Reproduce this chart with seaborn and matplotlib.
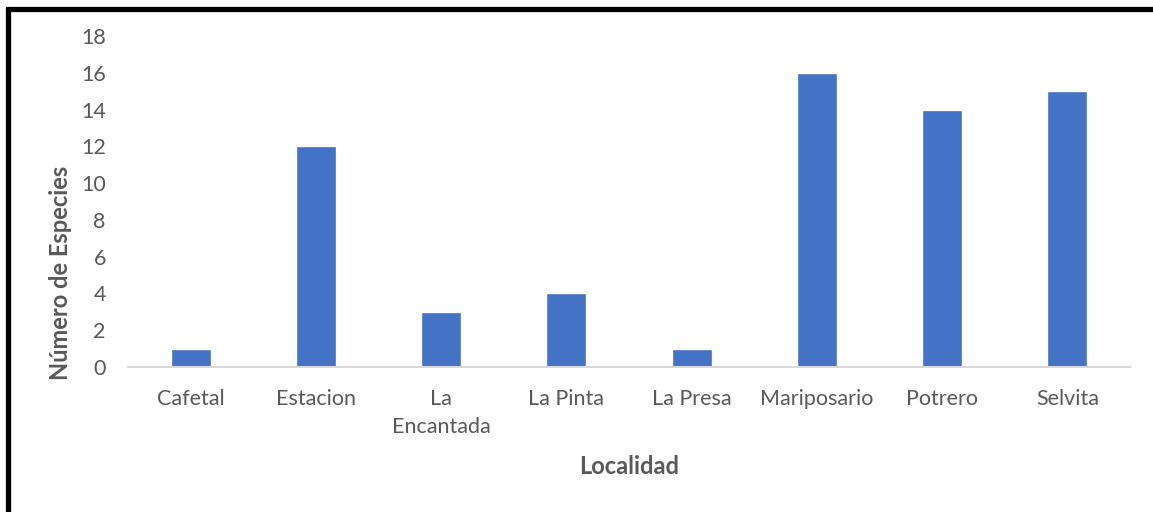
import matplotlib
matplotlib.use("Agg")
import matplotlib.pyplot as plt
from matplotlib.patches import Rectangle
import seaborn as sns
import pandas as pd

localidades = ["Cafetal", "Estacion", "La\nEncantada", "La Pinta", "La Presa",
               "Mariposario", "Potrero", "Selvita"]
especies = [1, 12, 3, 4, 1, 16, 14, 15]
y_ticks = [0, 2, 4, 6, 8, 10, 12, 14, 16, 18]

sns.set_theme(style="white")
plt.rcParams["font.family"] = ["Lato", "DejaVu Sans"]

W, H = 1153, 512
fig = plt.figure(figsize=(W / 100, H / 100), dpi=100)
ax = fig.add_axes([128 / W, 1 - 367 / H, (1130 - 128) / W, (367 - 36) / H])

df = pd.DataFrame({"Localidad": localidades, "Especies": especies})
sns.barplot(data=df, x="Localidad", y="Especies", color="#4472C4",
            saturation=1, width=0.32, ax=ax)

ax.set_ylim(0, 18)
ax.set_xlim(-0.5, len(localidades) - 0.5)
ax.set_yticks(y_ticks)
ax.tick_params(axis="both", length=0, labelsize=15.5, colors="#595959")
ax.tick_params(axis="y", pad=16)
ax.tick_params(axis="x", pad=16)
for lbl in ax.get_xticklabels():
    lbl.set_linespacing(1.5)
for s in ["top", "right", "left"]:
    ax.spines[s].set_visible(False)
ax.spines["bottom"].set_color("#D9D9D9")
ax.spines["bottom"].set_linewidth(1.5)

ax.set_xlabel("")
ax.set_ylabel("")
fig.text(629 / W, 1 - 466 / H, "Localidad", ha="center", va="center",
         fontsize=17, fontweight="bold", color="#595959")
fig.text(60 / W, 1 - 273 / H, "Número de Especies", ha="center", va="center",
         rotation=90, fontsize=17, fontweight="bold", color="#595959")

# heavy black frame around the chart
fig.add_artist(Rectangle((7.5 / W, -0.2), 1.2, 1.2 - 8.5 / H,
                         transform=fig.transFigure, fill=False,
                         edgecolor="black", linewidth=3.8, clip_on=False))

fig.savefig("out.png", dpi=100)
